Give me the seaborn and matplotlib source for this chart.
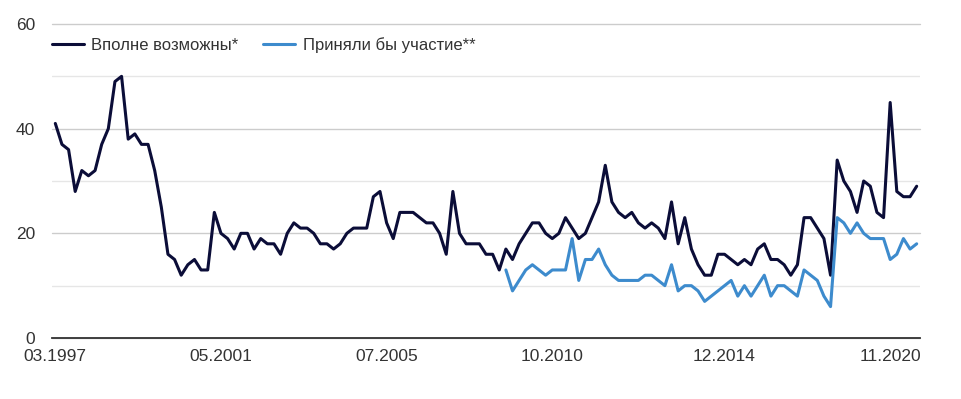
import numpy as np
import pandas as pd
import matplotlib
matplotlib.use("Agg")
import matplotlib.pyplot as plt
import seaborn as sns

# ---- data ----
series_names = ["Вполне возможны*", "Приняли бы участие**"]

possible = [41, 37, 36, 28, 32, 31, 32, 37, 40, 49, 50, 38, 39, 37, 37, 32, 25, 16, 15, 12, 14,
            15, 13, 13, 24, 20, 19, 17, 20, 20, 17, 19, 18, 18, 16, 20, 22, 21, 21, 20, 18, 18, 17,
            18, 20, 21, 21, 21, 27, 28, 22, 19, 24, 24, 24, 23, 22, 22, 20, 16, 28, 20, 18, 18,
            18, 16, 16, 13, 17, 15, 18, 20, 22, 22, 20, 19, 20, 23, 21, 19, 20, 23, 26, 33, 26,
            24, 23, 24, 22, 21, 22, 21, 19, 26, 18, 23, 17, 14, 12, 12, 16, 16, 15, 14, 15, 14, 17, 18, 15,
            15, 14, 12, 14, 23, 23, 21, 19, 12, 34, 30, 28, 24, 30, 29, 24, 23, 45, 28, 27, 27, 29]

participate_start = 68
participate = [13, 9, 11, 13, 14, 13, 12, 13, 13, 13, 19, 11, 15, 15, 17, 14, 12,
               11, 11, 11, 11, 12, 12, 11, 10, 14, 9, 10, 10, 9, 7, 8, 9, 10, 11, 8, 10, 8, 10, 12, 8,
               10, 10, 9, 8, 13, 12, 11, 8, 6, 23, 22, 20, 22, 20, 19, 19, 19, 15, 16, 19, 17, 18]

tick_positions = [0, 25, 50, 75, 101, 126]
tick_labels = ["03.1997", "05.2001", "07.2005", "10.2010", "12.2014", "11.2020"]
y_major = [0, 20, 40, 60]
y_minor = [10, 30, 50]

colors = ["#0b0d38", "#3d8bcd"]

# ---- build long-form table ----
df = pd.concat([
    pd.DataFrame({"idx": np.arange(len(possible)), "value": possible, "series": series_names[0]}),
    pd.DataFrame({"idx": np.arange(participate_start, participate_start + len(participate)),
                  "value": participate, "series": series_names[1]}),
], ignore_index=True)

sns.set_theme(style="white")
plt.rcParams['font.family'] = ['Liberation Sans', 'DejaVu Sans']

W, H = 962, 399
fig = plt.figure(figsize=(W / 100, H / 100), dpi=100)
ax = fig.add_axes([52 / W, 1 - 338 / H, (920 - 52) / W, (338 - 24) / H])

sns.lineplot(data=df, x="idx", y="value", hue="series", hue_order=series_names,
             palette=colors, linewidth=2.2, estimator=None, ax=ax, legend=False)

ax.set_xlim(-0.5, len(possible) - 0.5)
ax.set_ylim(0, 60)
ax.set_xlabel("")
ax.set_ylabel("")

ax.set_yticks(y_major)
ax.set_yticks(y_minor, minor=True)
ax.set_xticks(tick_positions)
ax.set_xticklabels(tick_labels)

ax.grid(which="major", axis="y", color="#cccccc", linewidth=1.0)
ax.grid(which="minor", axis="y", color="#e6e6e6", linewidth=1.0)
ax.grid(which="both", axis="x", visible=False)
for gl in ax.get_ygridlines():
    gl.set_clip_on(False)
ax.set_axisbelow(True)

for s in ["left", "right", "top"]:
    ax.spines[s].set_visible(False)
ax.spines["bottom"].set_color("#333333")
ax.spines["bottom"].set_linewidth(1.3)
ax.spines["bottom"].set_zorder(5)

ax.tick_params(axis="y", which="both", length=0, pad=12, labelsize=12.5, labelcolor="#333333")
ax.tick_params(axis="x", which="both", length=0, pad=8, labelsize=12.5, labelcolor="#333333")

handles = [plt.Line2D([], [], color=c, linewidth=2.2) for c in colors]
leg = ax.legend(handles, series_names, loc="center left", bbox_to_anchor=(0, 0.933),
                ncol=2, frameon=False, fontsize=12, borderaxespad=0, borderpad=0,
                handlelength=1.9, handletextpad=0.45, columnspacing=1.5)
for t in leg.get_texts():
    t.set_color("#333333")

fig.savefig("out.png", dpi=100)
